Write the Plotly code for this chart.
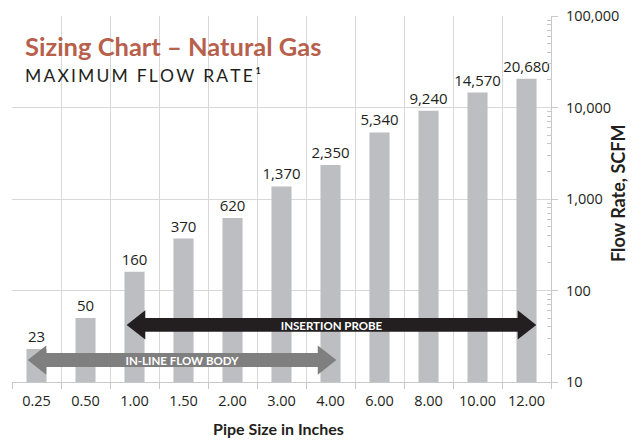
import plotly.graph_objects as go

pipe_sizes = ["0.25", "0.50", "1.00", "1.50", "2.00", "3.00", "4.00", "6.00", "8.00", "10.00", "12.00"]
flow_rates = [23, 50, 160, 370, 620, 1370, 2350, 5340, 9240, 14570, 20680]
y_tickvals = [10, 100, 1000, 10000, 100000]
y_ticktext = ["10", "100", "1,000", "10,000", "100,000"]
y_minor_vals = [m * d for d in (10, 100, 1000, 10000) for m in range(2, 10)]

# arrow ranges (category index units) and vertical position (paper units)
insertion = dict(label="INSERTION PROBE", x0=1.84, x1=10.2, y=0.156, color="#231f20")
inline = dict(label="IN-LINE FLOW BODY", x0=-0.18, x1=6.12, y=0.060, color="#7f7f80")

FONT = "Lato"
NUMFONT = "Open Sans"
GRID = "#d8d8da"

fig = go.Figure()
fig.add_trace(go.Bar(
    x=pipe_sizes, y=flow_rates, width=0.41,
    marker=dict(color="#bdbec1", line=dict(width=0)),
    text=[f"{v:,}" for v in flow_rates], textposition="outside", constraintext="none",
    textfont=dict(family=NUMFONT, size=15, color="#231f20"),
    cliponaxis=False, hoverinfo="skip",
))

shapes = []
# white box behind title
shapes.append(dict(type="rect", xref="paper", yref="paper", x0=0.004, x1=0.59, y0=0.79, y1=0.955,
                   fillcolor="white", line=dict(width=0), layer="below"))

def dbl_arrow(a, head=0.38, bh=0.019, hh=0.040):
    x0, x1, y = a["x0"], a["x1"], a["y"]
    path = (f"M {x0},{y} L {x0+head},{y+hh} L {x0+head},{y+bh} L {x1-head},{y+bh} "
            f"L {x1-head},{y+hh} L {x1},{y} L {x1-head},{y-hh} L {x1-head},{y-bh} "
            f"L {x0+head},{y-bh} L {x0+head},{y-hh} Z")
    shapes.append(dict(type="path", xref="x", yref="paper", path=path,
                       fillcolor=a["color"], line=dict(width=0), layer="above",
                       label=dict(text=f"<b>{a['label']}</b>", textposition="middle center",
                                  font=dict(family=FONT, size=11.5, color="white"))))

dbl_arrow(insertion)
dbl_arrow(inline)

annotations = []
annotations.append(dict(x=0.021, y=0.918, xref="paper", yref="paper", xanchor="left", yanchor="middle",
                        text="<b>Sizing Chart – Natural Gas</b>", showarrow=False,
                        font=dict(family=FONT, size=25.5, color="#b7604c")))
sub = "\u2009".join("MAXIMUM FLOW RATE") + "\u2009¹"
annotations.append(dict(x=0.021, y=0.838, xref="paper", yref="paper", xanchor="left", yanchor="middle",
                        text=sub, showarrow=False,
                        font=dict(family=FONT, size=17.5, color="#231f20")))
# axis titles
annotations.append(dict(x=0.494, y=-0.126, xref="paper", yref="paper", xanchor="center", yanchor="middle",
                        text="<b>Pipe Size in Inches</b>", showarrow=False,
                        font=dict(family=FONT, size=16, color="#231f20")))
annotations.append(dict(x=1.124, y=0.516, xref="paper", yref="paper", xanchor="center", yanchor="middle",
                        text="<b>Flow Rate, SCFM</b>", showarrow=False, textangle=-90,
                        font=dict(family=FONT, size=18, color="#231f20")))

fig.update_layout(
    width=641, height=441,
    margin=dict(l=12, r=90, t=16, b=59, autoexpand=False),
    paper_bgcolor="white", plot_bgcolor="white",
    showlegend=False,
    shapes=shapes, annotations=annotations,
    font=dict(family=FONT, color="#231f20"),
)
fig.update_xaxes(
    type="category", tickson="boundaries", showgrid=True, gridcolor=GRID, gridwidth=1,
    showline=True, linecolor="#c8c8ca", ticks="outside", ticklen=6, tickcolor="#c8c8ca",
    tickfont=dict(family=NUMFONT, size=14.5, color="#231f20"), automargin=False,
    ticklabelstandoff=6, zeroline=False, ticklabeloverflow="allow",
)
fig.update_yaxes(
    type="log", range=[1, 5], side="right", showgrid=True, gridcolor=GRID, zeroline=False,
    showline=True, linecolor="#c8c8ca", automargin=False, ticklabeloverflow="allow",
    tickvals=y_tickvals, ticktext=y_ticktext, ticks="outside", ticklen=6, tickcolor="#c8c8ca",
    tickfont=dict(family=NUMFONT, size=14.5, color="#231f20"), ticklabelstandoff=5,
    minor=dict(tickvals=y_minor_vals, ticks="inside", ticklen=4, tickcolor="#c8c8ca", showgrid=False),
)

# remove the default page margin so the 641x441 figure fills the window exactly
fig.write_html("out.html", config={"displayModeBar": False},
               post_script="document.body.style.margin='0';")
